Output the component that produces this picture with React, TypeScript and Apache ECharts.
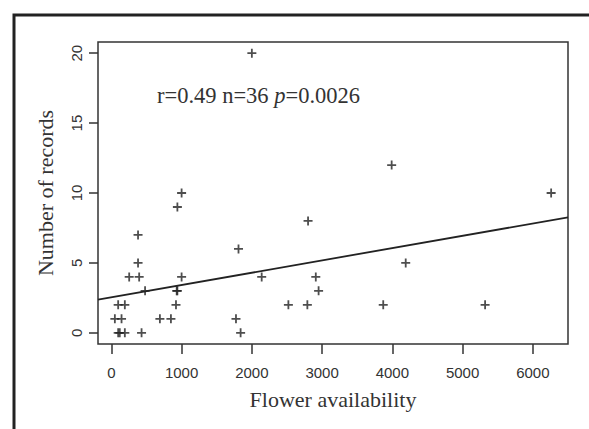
import React, { useEffect, useRef } from "react";
import * as echarts from "echarts";

// Data
const flowerAvailability = [
  1000, 940, 380, 380, 254, 396, 1000, 480, 940, 930, 920, 97, 192,
  50, 145, 691, 848, 1774, 97, 120, 192, 430, 1840, 1810, 2140, 2520,
  2790, 2800, 2910, 2950, 6260, 4190, 3870, 5320, 3990, 2000,
];
const numberOfRecords = [
  10, 9, 7, 5, 4, 4, 4, 3, 3, 3, 2, 2, 2,
  1, 1, 1, 1, 1, 0, 0, 0, 0, 0, 6, 4, 2,
  2, 8, 4, 3, 10, 5, 2, 2, 12, 20,
];
const xTicks = [0, 1000, 2000, 3000, 4000, 5000, 6000];
const yTicks = [0, 5, 10, 15, 20];
const xRange = [-190, 6500];
const yRange = [-0.8, 20.8];
const fitIntercept = 2.54;
const fitSlope = 0.00088;
const annotationText = ["r=0.49 n=36 ", "p", "=0.0026"];
const xTitle = "Flower availability";
const yTitle = "Number of records";

const PLUS = "path://M4,0H6V4H10V6H6V10H4V6H0V4H4Z";

export default function App() {
  const ref = useRef<HTMLDivElement>(null);
  useEffect(() => {
    if (!ref.current) return;
    const chart = echarts.init(ref.current, null, { renderer: "svg" });
    const points = flowerAvailability.map((x, i) => [x, numberOfRecords[i]]);
    const fitLine = xRange.map((x) => [x, fitIntercept + fitSlope * x]);
    const serif = "'Liberation Serif', 'Times New Roman', serif";
    const sans = "'Liberation Sans', Arial, sans-serif";
    chart.setOption({
      animation: false,
      backgroundColor: "#ffffff",
      grid: {
        left: 98,
        right: 21,
        top: 42,
        bottom: 85,
        show: true,
        borderColor: "#333",
        borderWidth: 1.5,
        backgroundColor: "transparent",
      },
      xAxis: {
        type: "value",
        min: xRange[0],
        max: xRange[1],
        name: xTitle,
        nameLocation: "middle",
        nameGap: 44,
        nameTextStyle: { fontFamily: serif, fontSize: 22, color: "#333" },
        axisLine: { show: false, onZero: false },
        splitLine: { show: false },
        axisTick: {
          show: true,
          inside: false,
          length: 10,
          customValues: xTicks,
          lineStyle: { color: "#333", width: 1.5 },
        },
        axisLabel: {
          customValues: xTicks,
          formatter: (v: number) => String(v),
          fontFamily: sans,
          fontSize: 15,
          color: "#333",
          margin: 21,
        },
      },
      yAxis: {
        type: "value",
        min: yRange[0],
        max: yRange[1],
        name: yTitle,
        nameLocation: "middle",
        nameGap: 42,
        nameTextStyle: { fontFamily: serif, fontSize: 22, color: "#333" },
        axisLine: { show: false, onZero: false },
        splitLine: { show: false },
        axisTick: {
          show: true,
          inside: false,
          length: 9,
          customValues: yTicks,
          lineStyle: { color: "#333", width: 1.5 },
        },
        axisLabel: {
          customValues: yTicks,
          formatter: (v: number) => String(v),
          rotate: 90,
          fontFamily: sans,
          fontSize: 15,
          color: "#333",
          margin: 14,
        },
      },
      graphic: [
        {
          type: "rect",
          shape: { x: 14, y: 15, width: 700, height: 600 },
          style: { fill: "none", stroke: "#222", lineWidth: 3 },
          silent: true,
        },
        {
          type: "text",
          x: 157,
          y: 95,
          style: {
            text:
              "{a|" + annotationText[0] + "}{i|" + annotationText[1] + "}{a|" + annotationText[2] + "}",
            verticalAlign: "middle",
            rich: {
              a: { fontFamily: serif, fontSize: 22.5, fill: "#333", color: "#333" },
              i: { fontFamily: serif, fontSize: 22.5, fontStyle: "italic", fill: "#333", color: "#333" },
            },
          },
        },
      ],
      series: [
        {
          type: "scatter",
          data: points,
          symbol: PLUS,
          symbolSize: 9,
          itemStyle: { color: "#222" },
        },
        {
          type: "line",
          data: fitLine,
          showSymbol: false,
          symbol: "none",
          lineStyle: { color: "#222", width: 1.8 },
        },
      ],
    });
    return () => chart.dispose();
  }, []);
  return (
    <div
      ref={ref}
      style={{ position: "fixed", left: 0, top: 0, width: 589, height: 429 }}
    />
  );
}
